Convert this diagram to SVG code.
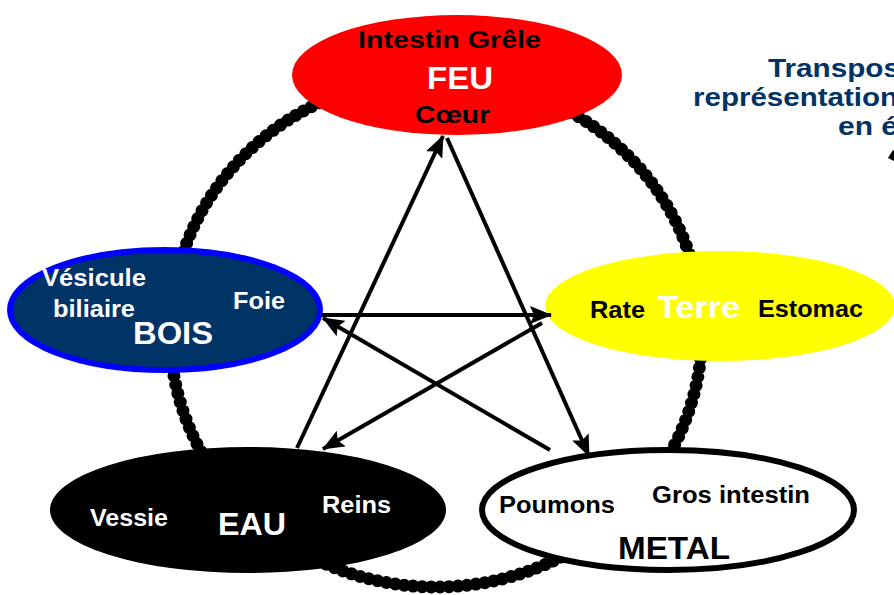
<svg xmlns="http://www.w3.org/2000/svg" width="894" height="595" viewBox="0 0 894 595">
<style>
  text { font-family: "Liberation Sans", Arial, sans-serif; font-weight: bold; }
  .s { font-size: 23px; }
  .b { font-size: 32px; }
  .w { fill: #ffffff; }
  .k { fill: #000000; }
  .title { font-size: 26px; fill: #003366; }
  .arrow { stroke: #000; stroke-width: 4; fill: none; marker-end: url(#ah); }
</style>
<defs>
  <marker id="ah" markerUnits="userSpaceOnUse" markerWidth="22" markerHeight="18" viewBox="0 0 22 18" refX="21" refY="9" orient="auto">
    <path d="M0,0 L22,9 L0,18 L4,9 Z" fill="#000"/>
  </marker>
</defs>
<rect width="894" height="595" fill="#ffffff"/>
<g id="ring">
  <ellipse cx="436" cy="332" rx="266" ry="255" fill="none" stroke="#000" stroke-width="8"/>
  <ellipse cx="436" cy="332" rx="266" ry="255" fill="none" stroke="#000" stroke-width="13" stroke-dasharray="0 9" stroke-linecap="round"/>
</g>
<g id="title">
  <text class="title" x="768" y="77" textLength="132" lengthAdjust="spacingAndGlyphs">Transpos</text>
  <text class="title" x="693" y="106" textLength="205" lengthAdjust="spacingAndGlyphs">représentation</text>
  <text class="title" x="838" y="135" textLength="60" lengthAdjust="spacingAndGlyphs">en é</text>
  <path d="M888,158 L893,150 L894,151 L894,161 Z" fill="#000"/>
</g>
<g id="feu">
  <ellipse cx="457" cy="75" rx="165" ry="60" fill="#ff0000"/>
  <text class="s k" x="358" y="48" textLength="183" lengthAdjust="spacingAndGlyphs">Intestin Grêle</text>
  <text class="b w" x="427" y="89" textLength="66" lengthAdjust="spacingAndGlyphs">FEU</text>
  <text class="s k" x="415" y="123" textLength="75" lengthAdjust="spacingAndGlyphs">Cœur</text>
</g>
<g id="terre">
  <ellipse cx="720" cy="306" rx="175" ry="55" fill="#ffff00"/>
  <text class="s k" x="590" y="318" textLength="55" lengthAdjust="spacingAndGlyphs">Rate</text>
  <text class="b w" x="657" y="318" textLength="83" lengthAdjust="spacingAndGlyphs">Terre</text>
  <text class="s k" x="758" y="317" textLength="105" lengthAdjust="spacingAndGlyphs">Estomac</text>
</g>
<g id="bois">
  <ellipse cx="165" cy="310" rx="155" ry="60" fill="#003366" stroke="#0000ff" stroke-width="6"/>
  <text class="s w" x="42" y="286" textLength="104" lengthAdjust="spacingAndGlyphs">Vésicule</text>
  <text class="s w" x="53" y="317" textLength="82" lengthAdjust="spacingAndGlyphs">biliaire</text>
  <text class="s w" x="233" y="309" textLength="52" lengthAdjust="spacingAndGlyphs">Foie</text>
  <text class="b w" x="133" y="344" textLength="80" lengthAdjust="spacingAndGlyphs">BOIS</text>
</g>
<g id="eau">
  <ellipse cx="248" cy="510" rx="198" ry="63" fill="#000000"/>
  <text class="s w" x="90" y="526" textLength="78" lengthAdjust="spacingAndGlyphs">Vessie</text>
  <text class="b w" x="218" y="535" textLength="68" lengthAdjust="spacingAndGlyphs">EAU</text>
  <text class="s w" x="322" y="513" textLength="69" lengthAdjust="spacingAndGlyphs">Reins</text>
</g>
<g id="metal">
  <ellipse cx="668" cy="510" rx="186" ry="60" fill="#ffffff" stroke="#000" stroke-width="6"/>
  <text class="s k" x="499" y="513" textLength="116" lengthAdjust="spacingAndGlyphs">Poumons</text>
  <text class="s k" x="652" y="503" textLength="158" lengthAdjust="spacingAndGlyphs">Gros intestin</text>
  <text class="b k" x="618" y="559" textLength="112" lengthAdjust="spacingAndGlyphs">METAL</text>
</g>
<g id="connectors">
  <line class="arrow" x1="297" y1="448" x2="443" y2="136"/>
  <line class="arrow" x1="447" y1="138" x2="589" y2="456"/>
  <line class="arrow" x1="322" y1="315" x2="551" y2="315"/>
  <line class="arrow" x1="542" y1="323" x2="323" y2="449"/>
  <line class="arrow" x1="550" y1="450" x2="323" y2="318"/>
</g>
</svg>
